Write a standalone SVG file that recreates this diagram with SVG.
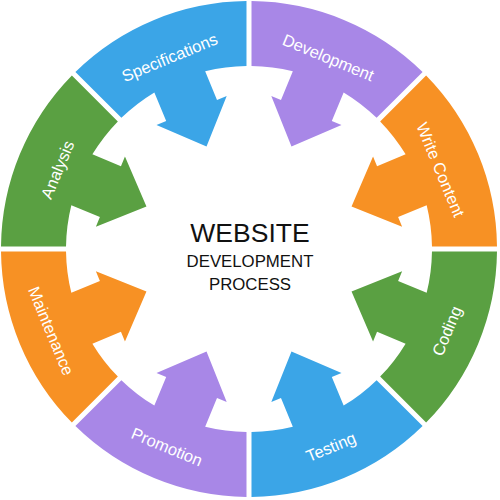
<svg xmlns="http://www.w3.org/2000/svg" xmlns:xlink="http://www.w3.org/1999/xlink" width="500" height="500" viewBox="0 0 500 500">
<style>
.blue{fill:#3ba5e7}
.purple{fill:#a887e7}
.orange{fill:#f79124}
.green{fill:#5aa042}
.lbl{font-family:"Liberation Sans",Arial,sans-serif;font-size:16.5px;fill:#ffffff;text-anchor:middle}
.ttl{font-family:"Liberation Sans",Arial,sans-serif;fill:#111111;text-anchor:middle}
</style>
<defs>
<path id="seg" d="M -92.59,-230.07 A 248 248 0 0 1 92.59,-230.07 L 67.71,-170.01 A 183 183 0 0 0 27.5,-180.92 L 27.5,-150 L 38,-150 L 0,-111 L -38,-150 L -27.5,-150 L -27.5,-180.92 A 183 183 0 0 0 -67.71,-170.01 Z"/>
</defs>
<rect width="500" height="500" fill="#ffffff"/>
<g id="specifications">
<use xlink:href="#seg" href="#seg" class="blue" transform="translate(249,249) rotate(-22.5)"/>
<text class="lbl" transform="translate(249,249) rotate(-22.5)" x="0" y="-201.5">Specifications</text>
</g>
<g id="development">
<use xlink:href="#seg" href="#seg" class="purple" transform="translate(249,249) rotate(22.5)"/>
<text class="lbl" transform="translate(249,249) rotate(22.5)" x="0" y="-201.5">Development</text>
</g>
<g id="write-content">
<use xlink:href="#seg" href="#seg" class="orange" transform="translate(249,249) rotate(67.5)"/>
<text class="lbl" transform="translate(249,249) rotate(67.5)" x="0" y="-201.5">Write Content</text>
</g>
<g id="coding">
<use xlink:href="#seg" href="#seg" class="green" transform="translate(249,249) rotate(112.5)"/>
<text class="lbl" transform="translate(249,249) rotate(-67.5)" x="0" y="220">Coding</text>
</g>
<g id="testing">
<use xlink:href="#seg" href="#seg" class="blue" transform="translate(249,249) rotate(157.5)"/>
<text class="lbl" transform="translate(249,249) rotate(-22.5)" x="0" y="220">Testing</text>
</g>
<g id="promotion">
<use xlink:href="#seg" href="#seg" class="purple" transform="translate(249,249) rotate(202.5)"/>
<text class="lbl" transform="translate(249,249) rotate(22.5)" x="0" y="220">Promotion</text>
</g>
<g id="maintenance">
<use xlink:href="#seg" href="#seg" class="orange" transform="translate(249,249) rotate(247.5)"/>
<text class="lbl" transform="translate(249,249) rotate(67.5)" x="0" y="220">Maintenance</text>
</g>
<g id="analysis">
<use xlink:href="#seg" href="#seg" class="green" transform="translate(249,249) rotate(-67.5)"/>
<text class="lbl" transform="translate(249,249) rotate(-67.5)" x="0" y="-201.5">Analysis</text>
</g>
<g id="title">
<text class="ttl" x="250" y="241.7" font-size="26.5">WEBSITE</text>
<text class="ttl" x="250" y="266.7" font-size="16.8">DEVELOPMENT</text>
<text class="ttl" x="250" y="290" font-size="16.8">PROCESS</text>
</g>
</svg>
